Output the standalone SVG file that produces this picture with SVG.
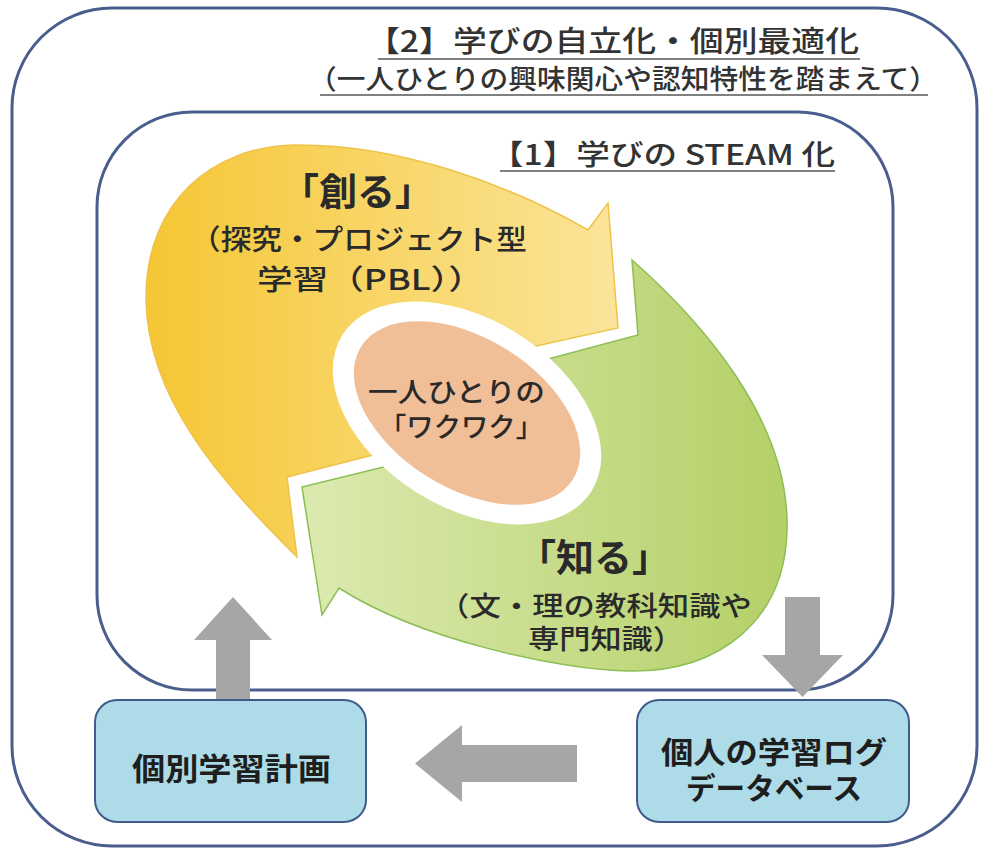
<svg xmlns="http://www.w3.org/2000/svg" width="984" height="850" viewBox="0 0 984 850">
<defs>
<linearGradient id="gY" gradientUnits="userSpaceOnUse" x1="145" y1="0" x2="620" y2="0">
<stop offset="0" stop-color="#F5C634"/>
<stop offset="1" stop-color="#FBE59B"/>
</linearGradient>
<linearGradient id="gG" gradientUnits="userSpaceOnUse" x1="300" y1="0" x2="790" y2="0">
<stop offset="0" stop-color="#DCEAB1"/>
<stop offset="1" stop-color="#B4D067"/>
</linearGradient>
<style>
.frame{fill:none;stroke:#4A5E8D;stroke-width:3}
.jp{font-family:"Noto Sans CJK JP","Noto Sans",sans-serif;fill:#2A2A2A;font-weight:500}
.hd{font-size:28px;fill:#333333}
.big{font-size:38px;font-weight:bold}
.lbl{font-size:28px}
.box{fill:#ADDCE8;stroke:#3F5B8C;stroke-width:2}
.boxt{font-size:30px;font-weight:bold;fill:#1E1E1E}
.ul{stroke:#808080;stroke-width:2}
.gray{fill:#A6A6A6}
</style>
</defs>
<rect width="984" height="850" fill="#FFFFFF"/>
<g id="outer-frame">
<rect class="frame" x="12" y="8" width="965" height="838" rx="100" ry="100"/>
<text class="jp hd" x="366" y="52" textLength="493" lengthAdjust="spacingAndGlyphs" style="font-size:29px">【2】学びの自立化・個別最適化</text>
<line class="ul" x1="378" y1="59" x2="860" y2="59"/>
<text class="jp hd" x="308" y="89" textLength="630" lengthAdjust="spacingAndGlyphs" style="font-size:27px">（一人ひとりの興味関心や認知特性を踏まえて）</text>
<line class="ul" x1="320" y1="95" x2="928" y2="95"/>
</g>
<g id="inner-frame">
<rect class="frame" x="97" y="112" width="796" height="578" rx="95" ry="95"/>
<text class="jp hd" x="490" y="165" textLength="345" lengthAdjust="spacingAndGlyphs">【1】学びの STEAM 化</text>
<line class="ul" x1="500" y1="171" x2="835" y2="171"/>
</g>
<g id="arrow-create">
<path d="M297,557 C220,480 148,400 146,300 C145,200 215,146 295,145 C400,144 510,185 588,230 L608,203 L618,328 L505,353 L460,363 L420,443 L373,455 L287,477 Z" fill="url(#gY)" stroke="#EFC24A" stroke-width="1.5" stroke-linejoin="miter"/>
</g>
<g id="arrow-know">
<path d="M632,260 C700,320 790,420 787,530 C785,620 720,672 630,671 C560,670 420,640 339,588 L322,615 L302,487 L408,461 L455,449 L505,370 L552,358 L638,335 Z" fill="url(#gG)" stroke="#8DBE55" stroke-width="1.5" stroke-linejoin="miter"/>
</g>
<g id="center-node">
<ellipse cx="467" cy="413" rx="147" ry="94" transform="rotate(32 467 413)" fill="#FFFFFF"/>
<ellipse cx="467" cy="413" rx="125" ry="75" transform="rotate(32 467 413)" fill="#F0BF98"/>
<text class="jp" x="368" y="402" textLength="177" lengthAdjust="spacingAndGlyphs" style="font-size:27px">一人ひとりの</text>
<text class="jp" x="379" y="437" textLength="164" lengthAdjust="spacingAndGlyphs" style="font-size:27px">「ワクワク」</text>
</g>
<g id="label-create">
<text class="jp big" x="281" y="205">「創る」</text>
<text class="jp lbl" x="190" y="250" textLength="337" lengthAdjust="spacingAndGlyphs">（探究・プロジェクト型</text>
<text class="jp lbl" x="257" y="290" textLength="227" lengthAdjust="spacingAndGlyphs">学習（PBL））</text>
</g>
<g id="label-know">
<text class="jp big" x="518" y="571">「知る」</text>
<text class="jp lbl" x="438" y="616" textLength="314" lengthAdjust="spacingAndGlyphs" style="font-size:27px">（文・理の教科知識や</text>
<text class="jp lbl" x="528" y="649" textLength="156" lengthAdjust="spacingAndGlyphs" style="font-size:27px">専門知識）</text>
</g>
<g id="connectors">
<polygon class="gray" points="216,700 216,640 194,640 233,597 272,640 250,640 250,700"/>
<polygon class="gray" points="785,597 820,597 820,655 843,655 802.5,697 762,655 785,655"/>
<polygon class="gray" points="577,745 577,782 462,782 462,802 415,763.5 462,725 462,745"/>
</g>
<g id="box-plan">
<rect class="box" x="95" y="700" width="271" height="122" rx="22" ry="22"/>
<text class="jp boxt" x="132" y="780" textLength="199" lengthAdjust="spacingAndGlyphs" style="font-size:31px">個別学習計画</text>
</g>
<g id="box-log">
<rect class="box" x="637" y="700" width="272" height="122" rx="22" ry="22"/>
<text class="jp boxt" x="661" y="763" textLength="226" lengthAdjust="spacingAndGlyphs">個人の学習ログ</text>
<text class="jp boxt" x="686" y="799" textLength="176" lengthAdjust="spacingAndGlyphs">データベース</text>
</g>
</svg>
